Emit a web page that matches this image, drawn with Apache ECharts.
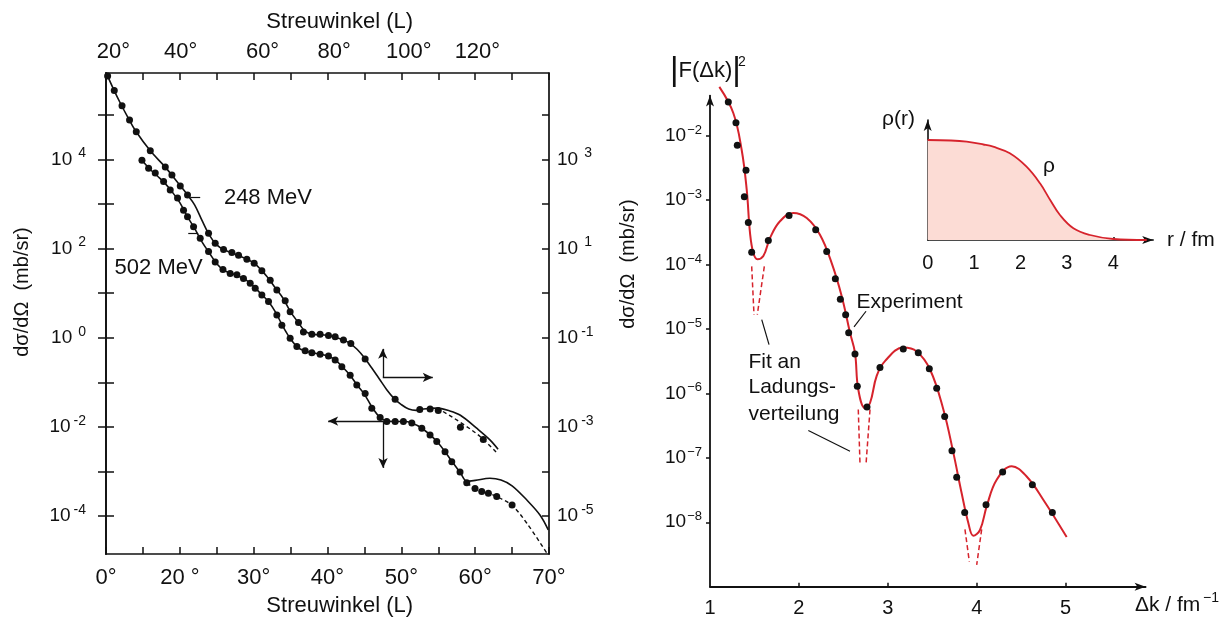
<!DOCTYPE html>
<html><head><meta charset="utf-8">
<script src="https://cdn.jsdelivr.net/npm/echarts@6/dist/echarts.min.js"></script>
<style>html,body{margin:0;padding:0;background:#fff}#c{width:1228px;height:621px}</style>
</head><body><div id="c"></div>
<script>
// ---------- LEFT PANEL: dσ/dΩ (log10, left scale, mb/sr) vs Streuwinkel (bottom scale, degrees) ----------
const bottomTickDeg = [10,15,20,25,30,35,40,45,50,55,60,65,70];
const bottomLabelDeg = [10,20,30,40,50,60,70];
const bottomLabelText = ['0°','20 °','30°','40°','50°','60°','70°'];
const topLabelDeg = [11.0,20.1,31.2,40.9,51.0,60.3];
const topLabelText = ['20°','40°','60°','80°','100°','120°'];
const leftTickExp = [-4,-3,-2,-1,0,1,2,3,4,5];
const leftLabelExp = [-4,-2,0,2,4];
const rightLabelAt = [4,2,0,-2,-4];
const rightLabelExp = ['3','1','-1','-3','-5'];

// 248 MeV
const deg248Dots = [10.22,11.12,12.17,13.19,14.10,16.0,18.03,18.93,20.06,21.04,23.89,24.79,25.92,27.05,27.95,29.08,30.07,31.11,32.24,33.14,34.27,34.94,36.07,36.74,37.88,39.0,40.13,41.04,42.16,43.16,45.10,49.16,52.5,53.9,55.0,58.0,61.1];
const log248Dots = [5.87,5.54,5.20,4.88,4.62,4.19,3.83,3.65,3.40,3.20,2.34,2.12,1.98,1.91,1.85,1.76,1.67,1.50,1.29,1.07,0.83,0.58,0.34,0.13,0.08,0.08,0.05,0.02,-0.05,-0.13,-0.48,-1.38,-1.61,-1.60,-1.63,-2.01,-2.28];
const deg248Fit = [10,11,12,13,14,16,18,20,21,22,23,24,25,26,28,30,31,32,33,34,35,36,37,38,40,42,43,44,45,46,47,48,49,50,51,52,53,54.8,56.5,58,60.2,62,63.1];
const log248Fit = [5.95,5.58,5.24,4.93,4.64,4.19,3.83,3.42,3.21,2.98,2.63,2.30,2.08,1.97,1.84,1.68,1.52,1.33,1.10,0.88,0.58,0.35,0.14,0.08,0.05,-0.04,-0.12,-0.26,-0.45,-0.68,-0.92,-1.16,-1.36,-1.50,-1.60,-1.63,-1.60,-1.58,-1.64,-1.74,-2.03,-2.29,-2.50];
const deg248Dash = [54.8,55.7,58.2,60.7,63.1];
const log248Dash = [-1.58,-1.66,-1.92,-2.22,-2.61];

// 502 MeV
const deg502Dots = [14.87,15.77,16.67,17.80,18.70,19.69,20.50,21.04,21.86,22.76,23.89,24.79,25.84,26.82,27.73,28.62,29.53,30.21,31.11,32.01,33.14,33.82,34.94,35.85,36.97,37.88,39.0,40.13,41.04,41.94,43.07,43.97,45.10,46.0,47.13,48.03,49.16,50.28,51.42,52.77,53.89,54.80,55.92,56.83,57.95,58.86,59.98,60.89,61.79,62.92,65.0];
const log502Dots = [3.98,3.80,3.69,3.50,3.31,3.13,2.86,2.71,2.49,2.23,1.93,1.70,1.53,1.44,1.41,1.33,1.22,1.11,0.96,0.81,0.51,0.28,-0.01,-0.20,-0.29,-0.34,-0.37,-0.41,-0.50,-0.65,-0.84,-1.06,-1.25,-1.58,-1.79,-1.88,-1.88,-1.88,-1.91,-2.03,-2.18,-2.33,-2.56,-2.78,-3.01,-3.25,-3.38,-3.45,-3.49,-3.56,-3.75];
const deg502Fit = [14.87,16,17,18,19,20,21,22,23,24,25,26,27,28,29,30,31,32,33,34,35,36,37,38,39,40,41,42,43,44,45,46,47,48,49,50.3,51.4,52.8,54.8,56.8,58,58.9,60,62,63.5,65,67,68.8,69.9];
const log502Fit = [3.98,3.77,3.62,3.46,3.26,3.03,2.72,2.45,2.15,1.90,1.66,1.51,1.44,1.38,1.29,1.15,0.98,0.81,0.56,0.24,-0.03,-0.22,-0.30,-0.34,-0.37,-0.41,-0.49,-0.65,-0.83,-1.06,-1.27,-1.55,-1.77,-1.87,-1.88,-1.88,-1.91,-2.03,-2.32,-2.76,-3.03,-3.22,-3.20,-3.15,-3.19,-3.32,-3.64,-3.98,-4.31];
const deg502Dash = [58.9,60,61,62,63.4,65,67,69.7];
const log502Dash = [-3.26,-3.38,-3.46,-3.50,-3.60,-3.76,-4.16,-4.83];

const energyLabels = ['248 MeV','502 MeV'];
const energyLabelDeg = [25.9,11.1];
const energyLabelLog = [3.14,1.56];

// ---------- RIGHT PANEL: |F(Δk)|² (log10) vs Δk / fm^-1 ----------
const kTicks = [1,2,3,4,5];
const fExpTicks = [-8,-7,-6,-5,-4,-3,-2];
const kDots = [1.206,1.292,1.307,1.405,1.386,1.431,1.469,1.656,1.889,2.189,2.313,2.410,2.466,2.526,2.560,2.631,2.657,2.766,2.912,3.174,3.343,3.467,3.550,3.640,3.722,3.775,3.865,4.105,4.292,4.626,4.851];
const logFDots = [-1.48,-1.80,-2.15,-2.54,-2.95,-3.35,-3.81,-3.63,-3.24,-3.46,-3.80,-4.22,-4.54,-4.78,-5.06,-5.39,-5.89,-6.21,-5.60,-5.31,-5.37,-5.62,-5.92,-6.36,-6.89,-7.30,-7.85,-7.73,-7.22,-7.42,-7.85];
const kFit = [1.105,1.262,1.356,1.413,1.45,1.487,1.532,1.60,1.675,1.787,1.937,2.088,2.237,2.369,2.481,2.575,2.631,2.668,2.744,2.80,2.875,2.968,3.174,3.325,3.475,3.625,3.737,3.831,3.906,3.962,4.037,4.113,4.225,4.394,4.562,4.749,5.012];
const logFFit = [-1.245,-1.65,-2.22,-2.84,-3.51,-3.82,-3.92,-3.87,-3.59,-3.33,-3.20,-3.28,-3.54,-3.98,-4.49,-5.06,-5.37,-5.94,-6.23,-6.15,-5.73,-5.50,-5.29,-5.35,-5.63,-6.25,-6.92,-7.55,-8.01,-8.21,-8.12,-7.75,-7.34,-7.13,-7.29,-7.65,-8.23];
// dashed fit continuation into the zeros: [k1, log1, k2, log2]
const fitDips = [
  [1.469,-4.03,1.495,-4.78],[1.611,-4.03,1.532,-4.78],
  [2.668,-6.25,2.687,-7.08],[2.800,-6.25,2.755,-7.10],
  [3.868,-8.11,3.917,-8.61],[4.056,-8.11,4.000,-8.66]
];
const rightNotes = ['Experiment','Fit an','Ladungs-','verteilung'];
const rightNoteK = [2.642,1.427,1.427,1.427];
const rightNoteLog = [-4.58,-5.51,-5.91,-6.33];
const rightLeaders = [[2.620,-4.968,2.755,-4.726],[1.582,-4.855,1.664,-5.243],[2.106,-6.577,2.575,-6.898]];

// ---------- INSET: ρ(r) ----------
const rTicks = [0,1,2,3,4];
const rVals = [0,0.5,0.84,1.2,1.41,1.77,2.13,2.42,2.64,2.85,3.14,3.5,4.0,4.72];
const rhoVals = [1.0,0.995,0.983,0.955,0.933,0.867,0.733,0.567,0.40,0.25,0.117,0.05,0.01,0.0];

const FONT = "'Liberation Sans', Arial, Helvetica, sans-serif";
const INK = '#111111';
const RED = '#d6232c';
const pairs = (xs, ys) => xs.map((x, i) => [x, ys[i]]);

const chart = echarts.init(document.getElementById('c'), null, {renderer: 'canvas'});

const supRich = {
  b: {fontSize: 19, lineHeight: 26, fontFamily: FONT, color: INK},
  p: {fontSize: 14, lineHeight: 14, fontFamily: FONT, color: INK, verticalAlign: 'top', padding: [0, 0, 0, 6]},
  n: {fontSize: 14, lineHeight: 14, fontFamily: FONT, color: INK, verticalAlign: 'top', padding: [0, 0, 0, 3]}
};
const supLabel = s => '{b|10}' + (String(s).charAt(0) === '-' ? '{n|' + s + '}' : '{p|' + s + '}');
const fRich = {
  b: {fontSize: 19, lineHeight: 24, fontFamily: FONT, color: INK},
  s: {fontSize: 13, lineHeight: 13, fontFamily: FONT, color: INK, verticalAlign: 'top', padding: [0, 0, 0, 1]}
};

const axLine = (w, arrow) => ({show: true, onZero: false, symbol: arrow ? ['none', 'arrow'] : 'none', symbolSize: [6, 11], lineStyle: {color: INK, width: w}});
const tickStyle = {color: INK, width: 1.5};

const leftY = {gridIndex: 0, type: 'value', min: -4.85, max: 5.935, splitLine: {show: false}};
const dotStyle = {color: INK, opacity: 1};
const ghost = {color: 'rgba(0,0,0,0)', opacity: 1};

const option = {
  animation: false,
  backgroundColor: '#fff',
  textStyle: {fontFamily: FONT, color: INK},
  grid: [
    {left: 106, top: 73, width: 443, height: 481, outerBoundsMode: 'none'},
    {left: 710, top: 95.6, width: 435.6, height: 491.1, outerBoundsMode: 'none'},
    {left: 927.7, top: 120, width: 225.5, height: 120, outerBoundsMode: 'none'}
  ],
  xAxis: [
    {gridIndex: 0, type: 'value', position: 'bottom', min: 10, max: 70, splitLine: {show: false},
     axisLine: axLine(1.7), axisTick: {show: true, inside: true, length: 7, customValues: bottomTickDeg, lineStyle: tickStyle},
     axisLabel: {customValues: bottomLabelDeg, formatter: v => bottomLabelText[bottomLabelDeg.indexOf(v)], fontSize: 22, color: INK, margin: 13, fontFamily: FONT}},
    {gridIndex: 0, type: 'value', position: 'top', min: 10, max: 70, splitLine: {show: false},
     axisLine: axLine(1.7), axisTick: {show: true, inside: true, length: 7, customValues: bottomTickDeg, lineStyle: tickStyle},
     axisLabel: {customValues: topLabelDeg, formatter: v => topLabelText[topLabelDeg.indexOf(v)], fontSize: 22, color: INK, margin: 10, fontFamily: FONT}},
    {gridIndex: 1, type: 'value', min: 1, max: 5.9, splitLine: {show: false},
     axisLine: axLine(1.8, true), axisTick: {show: true, inside: true, length: 4, customValues: [2,3,4,5], lineStyle: tickStyle},
     axisLabel: {customValues: kTicks, fontSize: 20, color: INK, margin: 12, fontFamily: FONT}},
    {gridIndex: 2, type: 'value', min: 0, max: 4.86, splitLine: {show: false},
     axisLine: axLine(1.6, true), axisTick: {show: true, inside: true, length: 3, customValues: [1,2,3,4], lineStyle: tickStyle},
     axisLabel: {customValues: rTicks, fontSize: 20, color: INK, margin: 13, fontFamily: FONT}}
  ],
  yAxis: [
    Object.assign({}, leftY, {position: 'left', axisLine: axLine(1.7),
      axisTick: {show: true, inside: false, length: 8, customValues: leftTickExp, lineStyle: tickStyle},
      axisLabel: {customValues: leftLabelExp, formatter: v => supLabel(v), rich: supRich, margin: 20, align: 'right'}}),
    Object.assign({}, leftY, {position: 'right', axisLine: axLine(1.7),
      axisTick: {show: true, inside: true, length: 7, customValues: leftTickExp, lineStyle: tickStyle},
      axisLabel: {customValues: rightLabelAt, formatter: v => supLabel(rightLabelExp[rightLabelAt.indexOf(v)]), rich: supRich, margin: 8, align: 'left'}}),
    Object.assign({}, leftY, {position: 'left', axisLine: axLine(1.7),
      axisTick: {show: true, inside: true, length: 8, customValues: leftTickExp, lineStyle: tickStyle},
      axisLabel: {show: false}}),
    {gridIndex: 1, type: 'value', min: -9, max: -1.38, splitLine: {show: false},
     axisLine: axLine(1.8, true), axisTick: {show: true, inside: false, length: 4, customValues: fExpTicks, lineStyle: tickStyle},
     axisLabel: {customValues: fExpTicks, formatter: v => '{b|10}{s|\u2212' + (-v) + '}', rich: fRich, margin: 8, align: 'right'}},
    {gridIndex: 2, type: 'value', min: 0, max: 1.2, splitLine: {show: false},
     axisLine: axLine(1.6, true), axisTick: {show: false}, axisLabel: {show: false}}
  ],
  series: [
    {type: 'line', xAxisIndex: 0, yAxisIndex: 0, data: pairs(deg248Fit, log248Fit), smooth: 0.35, symbol: 'none',
     lineStyle: {color: INK, width: 1.6},
     markLine: {silent: true, symbol: ['none', 'arrow'], symbolSize: [7, 10], label: {show: false},
       lineStyle: {color: INK, width: 1.3, type: 'solid'},
       data: [
         [{coord: [47.49, -0.89]}, {coord: [47.49, -0.25]}],
         [{coord: [47.49, -0.89]}, {coord: [54.26, -0.89]}],
         [{coord: [47.52, -1.87]}, {coord: [40.09, -1.87]}],
         [{coord: [47.52, -1.87]}, {coord: [47.52, -2.92]}]
       ]}},
    {type: 'line', xAxisIndex: 0, yAxisIndex: 0, data: pairs(deg248Dash, log248Dash), smooth: 0.35, symbol: 'none',
     lineStyle: {color: INK, width: 1.4, type: [4, 3]}},
    {type: 'scatter', xAxisIndex: 0, yAxisIndex: 0, data: pairs(deg248Dots, log248Dots), symbolSize: 7, itemStyle: dotStyle},
    {type: 'line', xAxisIndex: 0, yAxisIndex: 0, data: pairs(deg502Fit, log502Fit), smooth: 0.35, symbol: 'none',
     lineStyle: {color: INK, width: 1.6},
     markLine: {silent: true, symbol: ['none', 'none'], label: {show: false},
       lineStyle: {color: INK, width: 1.2, type: 'solid'},
       data: [
         [{coord: [21.41, 3.14]}, {coord: [22.76, 3.14]}],
         [{coord: [21.14, 2.35]}, {coord: [22.49, 2.35]}]
       ]}},
    {type: 'line', xAxisIndex: 0, yAxisIndex: 0, data: pairs(deg502Dash, log502Dash), smooth: 0.35, symbol: 'none',
     lineStyle: {color: INK, width: 1.4, type: [4, 3]}},
    {type: 'scatter', xAxisIndex: 0, yAxisIndex: 0, data: pairs(deg502Dots, log502Dots), symbolSize: 7, itemStyle: dotStyle},
    {type: 'scatter', xAxisIndex: 0, yAxisIndex: 0, symbolSize: 1, itemStyle: ghost,
     data: energyLabels.map((t, i) => ({name: t, value: [energyLabelDeg[i], energyLabelLog[i]]})),
     label: {show: true, position: 'right', distance: 0, formatter: p => p.name, fontSize: 22, color: INK, fontFamily: FONT, opacity: 1}},

    // right panel
    {type: 'line', xAxisIndex: 2, yAxisIndex: 3, data: pairs(kFit, logFFit), smooth: 0.4, symbol: 'none', clip: false,
     lineStyle: {color: RED, width: 2},
     markLine: {silent: true, symbol: ['none', 'none'], label: {show: false},
       lineStyle: {color: INK, width: 1.2, type: 'solid'},
       data: rightLeaders.map(l => [{coord: [l[0], l[1]]}, {coord: [l[2], l[3]]}])}},
    {type: 'lines', coordinateSystem: 'cartesian2d', xAxisIndex: 2, yAxisIndex: 3,
     lineStyle: {color: RED, width: 1.5, type: [5, 3], opacity: 1},
     data: fitDips.map(d => ({coords: [[d[0], d[1]], [d[2], d[3]]]}))},
    {type: 'scatter', xAxisIndex: 2, yAxisIndex: 3, data: pairs(kDots, logFDots), symbolSize: 7, itemStyle: dotStyle, z: 5},
    {type: 'scatter', xAxisIndex: 2, yAxisIndex: 3, symbolSize: 1, itemStyle: ghost,
     data: rightNotes.map((t, i) => ({name: t, value: [rightNoteK[i], rightNoteLog[i]]})),
     label: {show: true, position: 'right', distance: 0, formatter: p => p.name, fontSize: 21, color: INK, fontFamily: FONT, opacity: 1}},

    // inset
    {type: 'line', xAxisIndex: 3, yAxisIndex: 4, data: pairs(rVals, rhoVals), smooth: 0.4, symbol: 'none',
     lineStyle: {color: RED, width: 1.8}, areaStyle: {color: '#fcdcd5', opacity: 1}}
  ],
  graphic: [
    {type: 'text', x: 339.7, y: 22, style: {text: 'Streuwinkel (L)', font: '22px ' + FONT, fill: INK, align: 'center', verticalAlign: 'middle', textAlign: 'center', textVerticalAlign: 'middle'}},
    {type: 'text', x: 339.7, y: 606, style: {text: 'Streuwinkel (L)', font: '22px ' + FONT, fill: INK, align: 'center', verticalAlign: 'middle', textAlign: 'center', textVerticalAlign: 'middle'}},
    {type: 'text', x: 22, y: 292, rotation: Math.PI / 2, style: {text: 'd\u03c3/d\u03a9  (mb/sr)', font: '20px ' + FONT, fill: INK, align: 'center', verticalAlign: 'middle', textAlign: 'center', textVerticalAlign: 'middle'}},
    {type: 'text', x: 628, y: 264, rotation: Math.PI / 2, style: {text: 'd\u03c3/d\u03a9  (mb/sr)', font: '20px ' + FONT, fill: INK, align: 'center', verticalAlign: 'middle', textAlign: 'center', textVerticalAlign: 'middle'}},
    {type: 'text', x: 670, y: 71, style: {text: '{bar|\u007c}{f|F(\u0394k)}{bar|\u007c}', rich: {bar: {fontSize: 33, fontFamily: FONT, fill: INK, color: INK}, f: {fontSize: 22, fontFamily: FONT, fill: INK, color: INK}}, align: 'left', verticalAlign: 'middle', textAlign: 'left', textVerticalAlign: 'middle'}},
    {type: 'text', x: 738, y: 62, style: {text: '2', font: '14px ' + FONT, fill: INK, align: 'left', verticalAlign: 'middle', textAlign: 'left', textVerticalAlign: 'middle'}},
    {type: 'text', x: 1135, y: 605, style: {text: '\u0394k / fm', font: '21px ' + FONT, fill: INK, align: 'left', verticalAlign: 'middle', textAlign: 'left', textVerticalAlign: 'middle'}},
    {type: 'text', x: 1203, y: 598, style: {text: '\u22121', font: '14px ' + FONT, fill: INK, align: 'left', verticalAlign: 'middle', textAlign: 'left', textVerticalAlign: 'middle'}},
    {type: 'text', x: 915, y: 119, style: {text: '\u03c1(r)', font: '21px ' + FONT, fill: INK, align: 'right', verticalAlign: 'middle', textAlign: 'right', textVerticalAlign: 'middle'}},
    {type: 'text', x: 1049, y: 166, style: {text: '\u03c1', font: '21px ' + FONT, fill: INK, align: 'center', verticalAlign: 'middle', textAlign: 'center', textVerticalAlign: 'middle'}},
    {type: 'text', x: 1167, y: 240, style: {text: 'r / fm', font: '21px ' + FONT, fill: INK, align: 'left', verticalAlign: 'middle', textAlign: 'left', textVerticalAlign: 'middle'}}
  ]
};
chart.setOption(option);
</script>
</body></html>
